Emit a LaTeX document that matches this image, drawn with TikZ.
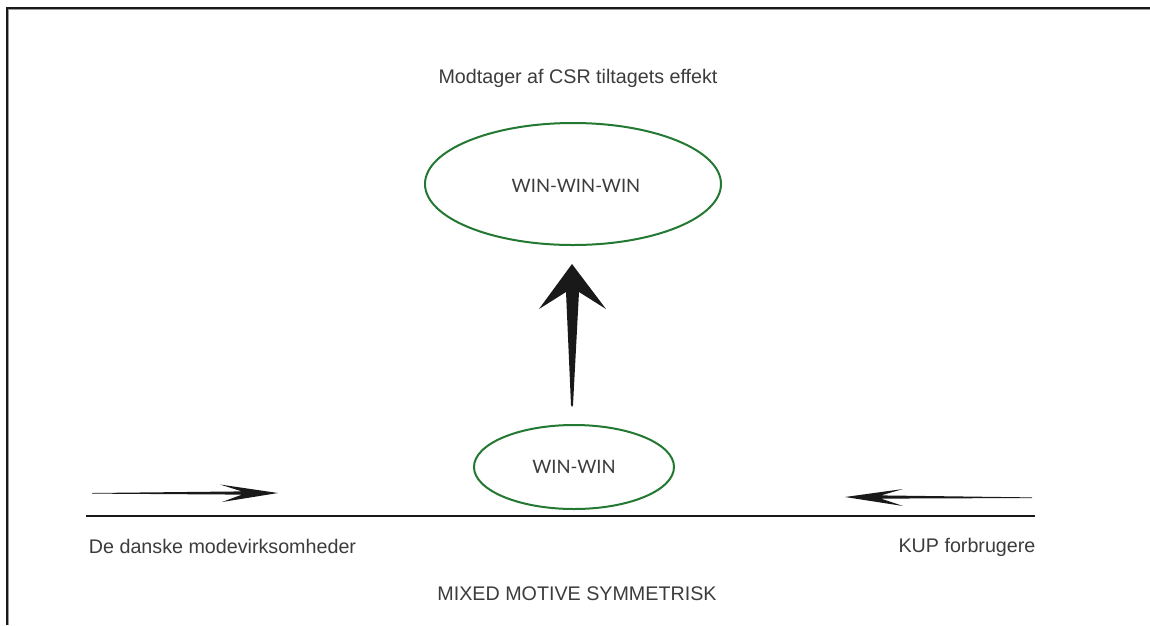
\documentclass[tikz,border=0pt]{standalone}
\usepackage{fontspec}
\setmainfont{Liberation Sans}
\newfontfamily\winfont{Lato}
\usetikzlibrary{calc,shapes.geometric}
\definecolor{ellgreen}{RGB}{35,120,50}
\definecolor{txtgray}{RGB}{60,60,60}
\begin{document}
\begin{tikzpicture}[x=1pt,y=-1pt,
  lbl/.style={inner sep=0pt,text=txtgray,font=\fontsize{19.7}{22}\selectfont},
  ell/.style={ellipse,draw=ellgreen,line width=2pt,inner sep=0pt},
  wintxt/.style={text=txtgray,font=\winfont\fontsize{18.5}{20}\selectfont},
  arrowfill/.style={fill=black!90}]
\useasboundingbox (0,0) rectangle (1150,625);
\fill[white] (0,0) rectangle (1150,625);
% frame
\draw[line width=2.5pt,black!90] (7,625) -- (7,8) -- (1150,8);
\draw[line width=0.6pt,black!40] (8.6,625) -- (8.6,9.6) -- (1150,9.6);
% texts
\node[lbl] (top) at (578,78) {Modtager af CSR tiltagets effekt};
\node[lbl] (left) at (222.5,546) {De danske modevirksomheder};
\node[lbl] (right) at (967,547) {KUP forbrugere};
\node[lbl] (bottom) at (577,594) {MIXED MOTIVE SYMMETRISK};
% ellipses
\node[ell,minimum width=296pt,minimum height=122pt] (www) at (573,184) {};
\node[wintxt] (wwwtxt) at ($(www.center)+(3,2)$) {WIN-WIN-WIN};
\node[ell,minimum width=200pt,minimum height=84pt] (ww) at (574,467) {};
\node[wintxt] (wwtxt) at (ww.center) {WIN-WIN};
% baseline
\coordinate (bl) at (86,516);
\coordinate (br) at (1035,516);
\draw[line width=2pt,black!90] (bl) -- (br);
% up arrow
\coordinate (upTail) at (572,407);
\coordinate (upTip) at (572,264);
\fill[arrowfill] (upTip) -- ($(upTip)+(34,45)$) -- ($(upTip)+(7,28)$) -- ($(upTail)+(1,-2)$) -- (upTail) -- ($(upTail)+(-1,-2)$) -- ($(upTip)+(-6,28)$) -- ($(upTip)+(-33,45)$) -- cycle;
% left arrow
\coordinate (laTail) at (92,493);
\coordinate (laTip) at (278,493);
\fill[arrowfill] (laTail) -- ($(laTip)+(-36,-1.6)$) -- ($(laTip)+(-58,-8.5)$) -- (laTip) -- ($(laTip)+(-56,9)$) -- ($(laTip)+(-36,1.6)$) -- ($(laTail)+(0,0.6)$) -- cycle;
% right arrow
\coordinate (raTail) at (1032,498);
\coordinate (raTip) at (845,497);
\fill[arrowfill] (raTail) -- ($(raTip)+(36,1.6)$) -- ($(raTip)+(58,9)$) -- (raTip) -- ($(raTip)+(58,-8)$) -- ($(raTip)+(36,-1.6)$) -- ($(raTail)+(0,-0.6)$) -- cycle;
\end{tikzpicture}
\end{document}
